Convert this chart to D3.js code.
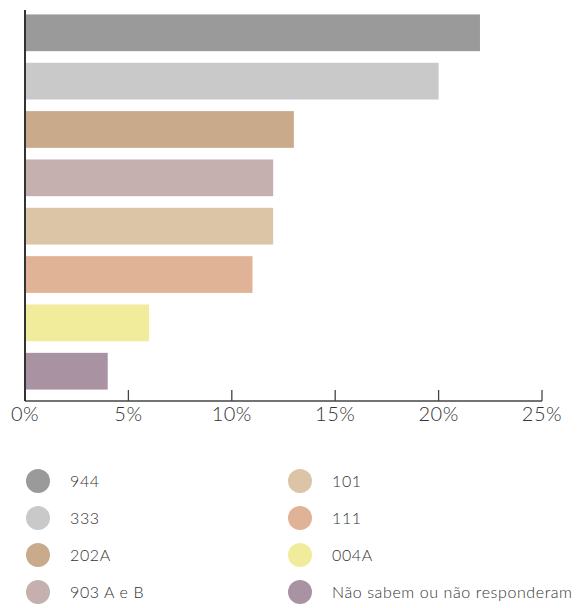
<!DOCTYPE html>
<html>
<head>
<meta charset="utf-8">
<script src="https://cdn.jsdelivr.net/npm/d3@7"></script>
<style>
  body { margin: 0; background: #fff; }
  text { font-family: "Lato", "Open Sans", sans-serif; font-weight: 300; fill: #333; }
</style>
</head>
<body>
<svg id="chart" width="584" height="608"></svg>
<script>
// dados
const categorias = ["944", "333", "202A", "903 A e B", "101", "111", "004A", "Não sabem ou não responderam"];
const valores = [22, 20, 13, 12, 12, 11, 6, 4];
const cores = ["#9a9a9a", "#c9c9c9", "#c9aa8b", "#c5afaf", "#dcc5a7", "#e0b296", "#f1ec9c", "#a993a3"];
const ticks = [0, 5, 10, 15, 20, 25];

const svg = d3.select("#chart");

const x = d3.scaleLinear().domain([0, 25]).range([25, 542]);
const y = d3.scaleBand().domain(categorias).range([12, 392]).paddingInner(0.24).paddingOuter(0.05);

// barras
svg.selectAll(".bar")
  .data(categorias)
  .enter().append("rect")
  .attr("class", "bar")
  .attr("x", x(0))
  .attr("y", d => y(d))
  .attr("width", (d, i) => x(valores[i]) - x(0))
  .attr("height", y.bandwidth())
  .attr("fill", (d, i) => cores[i]);

// eixo x
const eixo = svg.append("g").attr("transform", "translate(0,401)");
eixo.append("line")
  .attr("x1", x(0)).attr("x2", x(25))
  .attr("stroke", "#444").attr("stroke-width", 1.3);
eixo.selectAll(".tick")
  .data(ticks)
  .enter().append("line")
  .attr("x1", d => x(d)).attr("x2", d => x(d))
  .attr("y1", 0).attr("y2", -11)
  .attr("stroke", "#444").attr("stroke-width", 1.3);
eixo.selectAll(".lbl")
  .data(ticks)
  .enter().append("text")
  .attr("x", d => x(d))
  .attr("y", 20)
  .attr("text-anchor", "middle")
  .style("font-size", "20px")
  .style("letter-spacing", "0.5px")
  .text(d => d + "%");

// eixo y
svg.append("line")
  .attr("x1", x(0)).attr("x2", x(0))
  .attr("y1", 10).attr("y2", 401)
  .attr("stroke", "#333").attr("stroke-width", 2);

// legenda
const legenda = svg.selectAll(".leg")
  .data(categorias)
  .enter().append("g")
  .attr("transform", (d, i) => {
    const col = Math.floor(i / 4), lin = i % 4;
    return "translate(" + (38 + col * 262) + "," + (481 + lin * 37) + ")";
  });
legenda.append("circle")
  .attr("r", 12)
  .attr("fill", (d, i) => cores[i]);
legenda.append("text")
  .attr("x", 32)
  .attr("dy", "0.35em")
  .style("font-size", "16px")
  .style("letter-spacing", "0.6px")
  .text(d => d);
</script>
</body>
</html>
